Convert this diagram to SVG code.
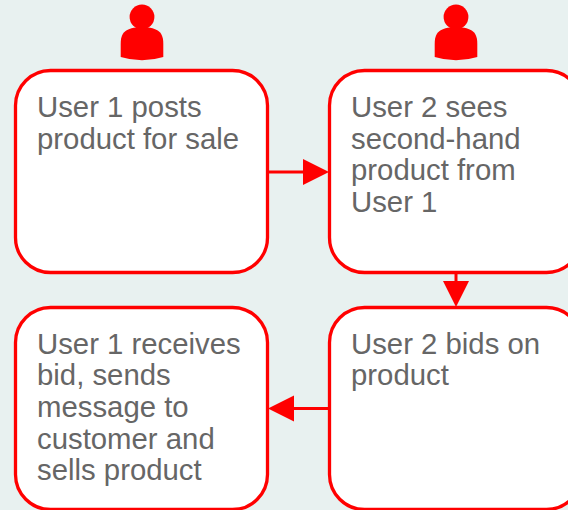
<svg xmlns="http://www.w3.org/2000/svg" width="568" height="510" viewBox="0 0 568 510">
<style>
.box{fill:#fff;stroke:#f00;stroke-width:3.3}
.lbl{font-family:"Liberation Sans",Arial,sans-serif;font-size:29.33px;fill:#666}
.line{fill:none;stroke:#f00;stroke-width:3}
.head{fill:#f00}
</style>
<defs>
<g id="person"><circle cx="0" cy="17" r="12.4"/><path d="M-21.300 57V44C-21.300 33-17 27.300 0 27.300S21.300 33 21.300 44V57Q0 63.600-21.300 57Z"/></g>
</defs>
<rect width="568" height="510" fill="#e8f1f0"/>
<g id="connectors">
<path class="line" d="M267.500 172H305"/><path class="head" d="M329 172L303 159V185Z"/>
<path class="line" d="M456 272.500V285"/><path class="head" d="M456 307L443 281H469Z"/>
<path class="line" d="M329.500 408.500H292"/><path class="head" d="M268 408.500L294 395.500V421.500Z"/>
</g>
<g id="user1-icon" fill="#f00"><use href="#person" x="142"/></g>
<g id="user2-icon" fill="#f00"><use href="#person" x="456"/></g>
<g id="node1"><rect class="box" x="15.500" y="70.500" width="252" height="202" rx="35"/>
<text class="lbl"><tspan x="37" y="117">User 1 posts</tspan><tspan x="37" y="149">product for sale</tspan></text></g>
<g id="node2"><rect class="box" x="329.500" y="70.500" width="252" height="202" rx="35"/>
<text class="lbl"><tspan x="351" y="117">User 2 sees</tspan><tspan x="351" y="149">second-hand</tspan><tspan x="351" y="180">product from</tspan><tspan x="351" y="212">User 1</tspan></text></g>
<g id="node3"><rect class="box" x="329.500" y="307.500" width="252" height="202" rx="35"/>
<text class="lbl"><tspan x="351" y="354">User 2 bids on</tspan><tspan x="351" y="385">product</tspan></text></g>
<g id="node4"><rect class="box" x="15.500" y="307.500" width="252" height="202" rx="35"/>
<text class="lbl"><tspan x="37" y="354">User 1 receives</tspan><tspan x="37" y="385">bid, sends</tspan><tspan x="37" y="417">message to</tspan><tspan x="37" y="449">customer and</tspan><tspan x="37" y="480">sells product</tspan></text></g>
</svg>
